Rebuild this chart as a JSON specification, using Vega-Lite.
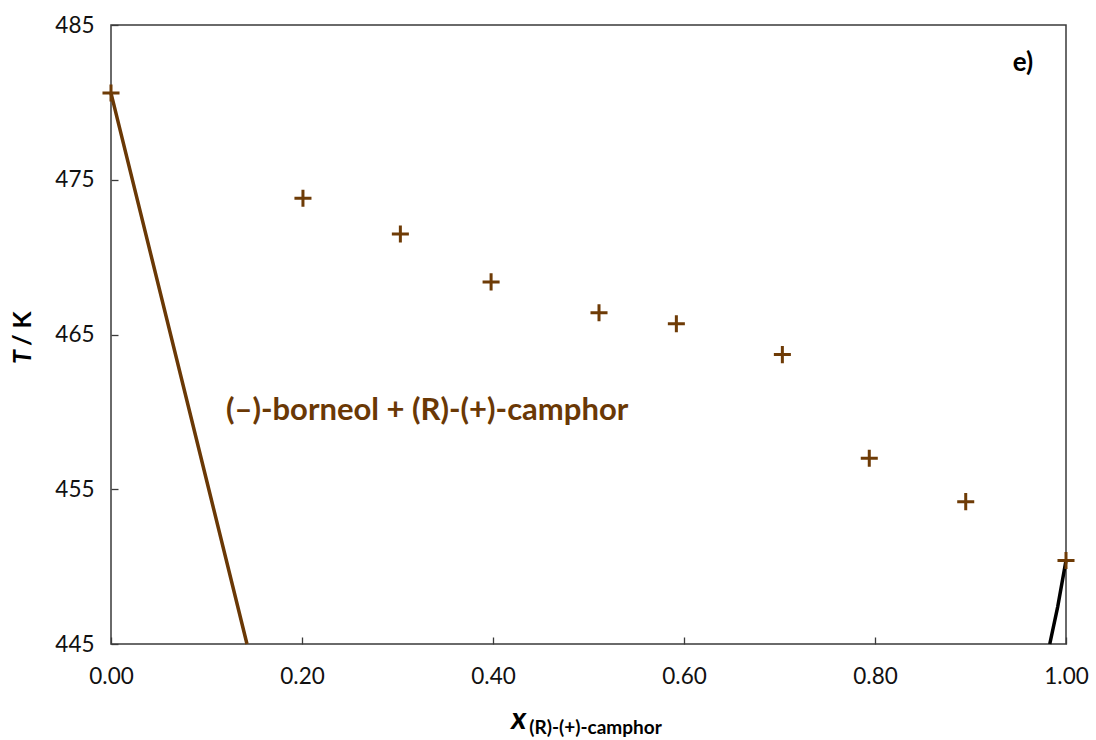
{
  "$schema": "https://vega.github.io/schema/vega-lite/v6.json",
  "width": 955,
  "height": 619,
  "autosize": {"type": "none"},
  "padding": {"left": 111, "top": 25, "right": 30, "bottom": 96},
  "background": "white",
  "config": {
    "font": "Lato",
    "view": {"stroke": "#3a3a3a", "strokeWidth": 1.5},
    "axis": {
      "grid": false,
      "domain": false,
      "ticks": true,
      "tickColor": "#3a3a3a",
      "tickWidth": 1.3,
      "labelFont": "Lato",
      "labelFontSize": 22.5,
      "labelColor": "#111111",
      "labelFlush": false,
      "labelOverlap": false,
      "title": null
    }
  },
  "datasets": {
    "experimental": [
      {"x": 0.0, "T": 480.6},
      {"x": 0.201, "T": 473.8},
      {"x": 0.303, "T": 471.5},
      {"x": 0.398, "T": 468.4},
      {"x": 0.511, "T": 466.4},
      {"x": 0.592, "T": 465.7},
      {"x": 0.703, "T": 463.7},
      {"x": 0.794, "T": 457.0},
      {"x": 0.895, "T": 454.2},
      {"x": 1.0, "T": 450.4}
    ],
    "liquidusBorneol": [
      {"x": 0.0, "T": 480.6},
      {"x": 0.1024, "T": 455.0},
      {"x": 0.1424, "T": 445.0}
    ],
    "liquidusCamphor": [
      {"x": 0.983, "T": 445.0},
      {"x": 0.9913, "T": 447.4},
      {"x": 1.0, "T": 450.4}
    ]
  },
  "layer": [
    {
      "data": {"name": "liquidusBorneol"},
      "mark": {"type": "line", "color": "#6a3805", "strokeWidth": 3.5},
      "encoding": {
        "x": {
          "field": "x", "type": "quantitative",
          "scale": {"domain": [0, 1], "nice": false, "zero": false},
          "axis": {"values": [0, 0.2, 0.4, 0.6, 0.8, 1.0], "format": ".2f", "tickSize": -7, "labelPadding": 28}
        },
        "y": {
          "field": "T", "type": "quantitative",
          "scale": {"domain": [445, 485], "nice": false, "zero": false},
          "axis": {"values": [445, 455, 465, 475, 485], "format": "d", "tickSize": -7, "labelPadding": 24}
        }
      }
    },
    {
      "data": {"name": "liquidusCamphor"},
      "mark": {"type": "line", "color": "#000000", "strokeWidth": 3.5},
      "encoding": {
        "x": {"field": "x", "type": "quantitative"},
        "y": {"field": "T", "type": "quantitative"}
      }
    },
    {
      "data": {"name": "experimental"},
      "mark": {
        "type": "point",
        "shape": "M-1,0L1,0M0,-1L0,1",
        "filled": false,
        "size": 290,
        "strokeWidth": 3,
        "color": "#6e3b06",
        "opacity": 1
      },
      "encoding": {
        "x": {"field": "x", "type": "quantitative"},
        "y": {"field": "T", "type": "quantitative"}
      }
    },
    {
      "data": {"values": [{"x": 0.331, "T": 460.06, "label": "(–)-borneol + (R)-(+)-camphor"}]},
      "mark": {"type": "text", "font": "Lato", "fontSize": 31, "fontWeight": "bold", "color": "#6a3805", "align": "center", "baseline": "middle"},
      "encoding": {
        "x": {"field": "x", "type": "quantitative"},
        "y": {"field": "T", "type": "quantitative"},
        "text": {"field": "label"}
      }
    },
    {
      "data": {"values": [{"x": 0.955, "T": 482.55, "label": "e)"}]},
      "mark": {"type": "text", "font": "Lato", "fontSize": 26, "fontWeight": "bold", "color": "#000000", "align": "center", "baseline": "middle"},
      "encoding": {
        "x": {"field": "x", "type": "quantitative"},
        "y": {"field": "T", "type": "quantitative"},
        "text": {"field": "label"}
      }
    },
    {
      "data": {"values": [{"x": 0.427, "T": 440.1, "label": "x"}]},
      "mark": {"type": "text", "font": "Lato", "fontSize": 31, "fontWeight": "bold", "fontStyle": "italic", "color": "#000000", "align": "center", "baseline": "middle", "clip": false},
      "encoding": {
        "x": {"field": "x", "type": "quantitative"},
        "y": {"field": "T", "type": "quantitative"},
        "text": {"field": "label"}
      }
    },
    {
      "data": {"values": [{"x": 0.438, "T": 439.6, "label": "(R)-(+)-camphor"}]},
      "mark": {"type": "text", "font": "Lato", "fontSize": 19, "fontWeight": "bold", "color": "#000000", "align": "left", "baseline": "middle", "clip": false},
      "encoding": {
        "x": {"field": "x", "type": "quantitative"},
        "y": {"field": "T", "type": "quantitative"},
        "text": {"field": "label"}
      }
    },
    {
      "data": {"values": [{"x": -0.092, "T": 463.55, "label": "T"}]},
      "mark": {"type": "text", "font": "Lato", "fontSize": 25, "fontWeight": "bold", "fontStyle": "italic", "color": "#000000", "align": "center", "baseline": "middle", "angle": 270, "clip": false},
      "encoding": {
        "x": {"field": "x", "type": "quantitative"},
        "y": {"field": "T", "type": "quantitative"},
        "text": {"field": "label"}
      }
    },
    {
      "data": {"values": [{"x": -0.092, "T": 464.25, "label": "/ K"}]},
      "mark": {"type": "text", "font": "Lato", "fontSize": 25, "fontWeight": "bold", "color": "#000000", "align": "left", "baseline": "middle", "angle": 270, "clip": false},
      "encoding": {
        "x": {"field": "x", "type": "quantitative"},
        "y": {"field": "T", "type": "quantitative"},
        "text": {"field": "label"}
      }
    }
  ]
}
